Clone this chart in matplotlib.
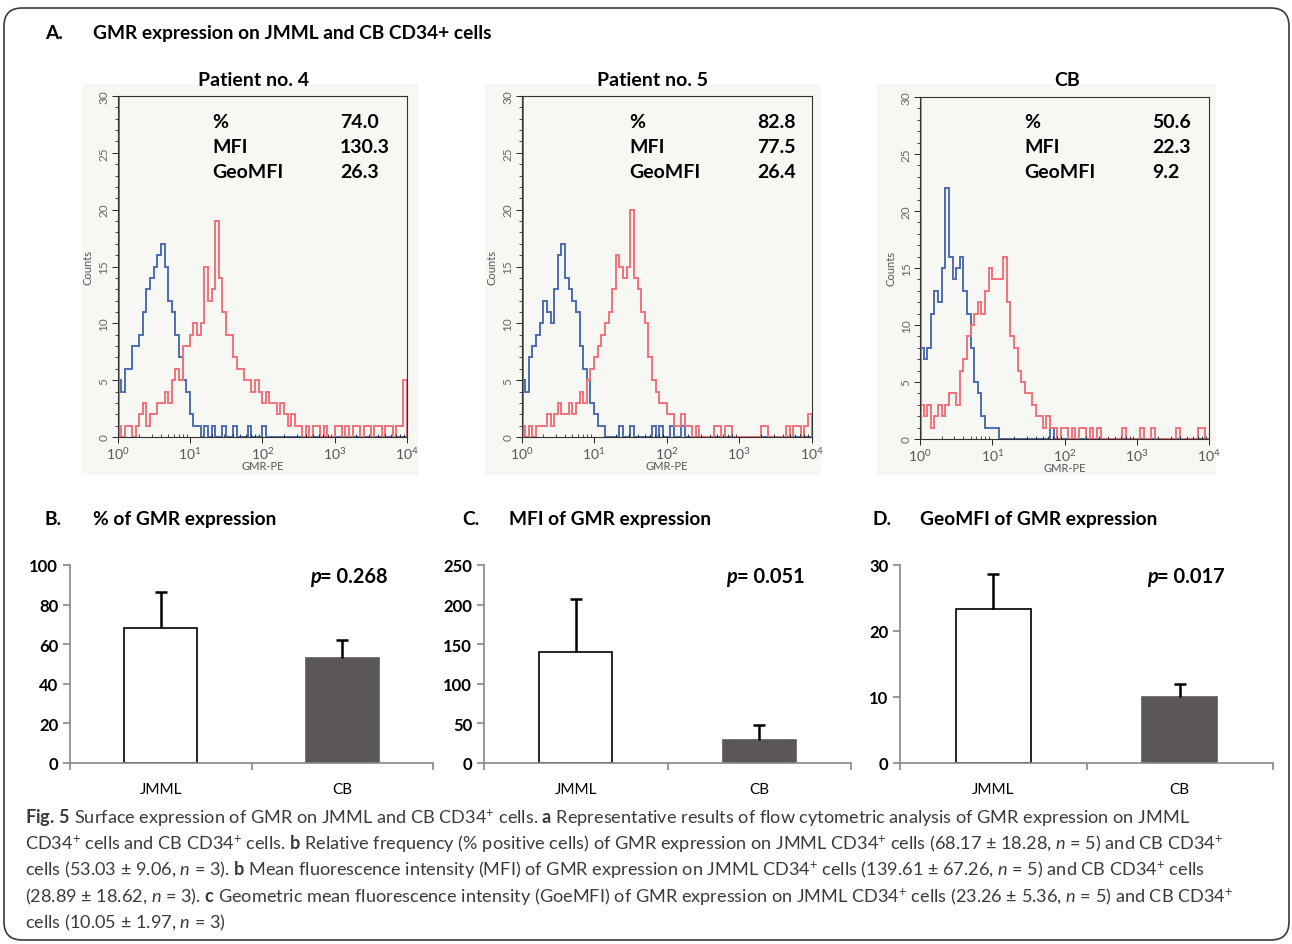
import numpy as np
import matplotlib
matplotlib.use('Agg')
import matplotlib.pyplot as plt
from matplotlib.patches import FancyBboxPatch, Rectangle
from matplotlib.ticker import MultipleLocator, LogLocator, NullFormatter

plt.rcParams['font.family'] = ['Lato', 'DejaVu Sans']
plt.rcParams['mathtext.fontset'] = 'custom'
plt.rcParams['mathtext.rm'] = 'Lato'
plt.rcParams['mathtext.it'] = 'Lato:italic'
plt.rcParams['mathtext.bf'] = 'Lato:bold'

W, H = 1292, 945

# ---- histogram data: counts per 0.05-decade bin, 10^0 .. 10^4 (80 bins) ----
p4_blue = [5, 4, 6, 6, 8, 8, 9, 11, 13, 14,
           15, 16, 17, 15, 12, 11, 9, 7, 5, 4,
           2, 1, 1, 0, 1, 0, 1, 0, 0, 1,
           0, 0, 1, 0, 0, 0, 1, 0, 0, 0,
           1, 0, 0, 0, 0, 0, 0, 0, 0, 0] + [0] * 30
p4_red = [1, 0, 1, 1, 0, 1, 2, 3, 1, 2,
          2, 3, 3, 4, 3, 5, 6, 5, 8, 8,
          9, 10, 9, 10, 15, 12, 13, 19, 14, 11,
          9, 9, 7, 6, 6, 5, 5, 4, 5, 4,
          3, 4, 3, 3, 2, 3, 2, 1, 2, 1,
          1, 0, 1, 0, 1, 1, 0, 1, 0, 0,
          1, 1, 0, 1, 0, 1, 1, 0, 1, 1,
          0, 1, 1, 0, 1, 1, 0, 1, 1, 5]
p5_blue = [5, 4, 7, 8, 9, 10, 12, 11, 10, 13,
           16, 17, 14, 13, 12, 11, 8, 6, 5, 3,
           2, 1, 1, 0, 0, 0, 0, 1, 0, 0,
           1, 0, 0, 0, 0, 0, 1, 0, 1, 0,
           0, 1, 0, 0, 1, 0, 0, 0, 0, 0] + [0] * 30
p5_red = [1, 0, 1, 0, 1, 1, 1, 2, 1, 2,
          3, 2, 2, 3, 2, 3, 4, 3, 5, 6,
          7, 8, 9, 10, 11, 13, 16, 15, 14, 15,
          20, 14, 13, 11, 10, 7, 5, 4, 3, 3,
          2, 2, 1, 1, 2, 1, 1, 0, 1, 0,
          0, 0, 0, 1, 1, 0, 1, 1, 0, 0,
          0, 0, 0, 0, 0, 0, 1, 1, 0, 0,
          0, 0, 0, 1, 0, 1, 1, 0, 1, 2]
cb_blue = [8, 7, 8, 11, 13, 12, 15, 22, 16, 14,
           15, 16, 13, 11, 8, 5, 4, 2, 1, 1,
           1, 1, 0, 0, 0, 0, 0, 0, 0, 0,
           0, 0, 0, 0, 0, 0, 1, 0, 0, 0] + [0] * 40
cb_red = [3, 2, 3, 1, 2, 3, 2, 3, 4, 4,
          3, 6, 7, 9, 10, 11, 12, 11, 13, 15,
          14, 14, 14, 16, 12, 9, 8, 6, 5, 4,
          4, 3, 2, 2, 1, 2, 1, 1, 0, 1,
          1, 0, 1, 0, 1, 1, 0, 1, 0, 1,
          0, 0, 0, 0, 0, 0, 1, 0, 0, 0,
          0, 1, 0, 0, 1, 0, 0, 0, 0, 0,
          0, 1, 0, 0, 0, 0, 0, 1, 1, 0]
# first channel (10^0) counts, off-scale ones are clipped at the top
first_blue = [31, 31, 19.5]
first_red = [7, 2, 31]

hist_titles = ['Patient no. 4', 'Patient no. 5', 'CB']
stat_names = ['%', 'MFI', 'GeoMFI']
stat_values = [['74.0', '130.3', '26.3'],
               ['82.8', '77.5', '26.4'],
               ['50.6', '22.3', '9.2']]

# ---- bar data ----
groups = ['JMML', 'CB']
pct_mean = [68.17, 53.03]
pct_sd = [18.28, 9.06]
mfi_mean = [139.61, 28.89]
mfi_sd = [67.26, 18.62]
geo_mean = [23.26, 10.05]
geo_sd = [5.36, 1.97]
p_values = ['0.268', '0.051', '0.017']

BLUE = '#4d6db3'
RED = '#f2717a'
DARK = '#5b5758'
TITLE_FS = 13.8

fig = plt.figure(figsize=(W / 100, H / 100), dpi=100)


def px_axes(l, t, r, b):
    return fig.add_axes([l / W, 1 - b / H, (r - l) / W, (b - t) / H])


def ftext(x, y, s, **kw):
    return fig.text(x / W, 1 - y / H, s, **kw)


# outer rounded frame
frame = FancyBboxPatch((4 / W, 1 - 941 / H), 1285 / W, 932 / H,
                       boxstyle='round,pad=0,rounding_size=0.014',
                       mutation_aspect=W / H, transform=fig.transFigure,
                       fill=False, ec='#3a3a3a', lw=1.2)
fig.patches.append(frame)

# ---- panel A ----
ftext(45, 39, 'A.', fontsize=TITLE_FS, fontweight='bold', va='baseline')
ftext(93, 39, 'GMR expression on JMML and CB CD34+ cells', fontsize=TITLE_FS,
      fontweight='bold', va='baseline')

edges = 10 ** np.linspace(0, 4, 81)
hist_boxes = [(117.5, 97, 407, 438), (521.5, 97, 811.5, 438), (920, 98, 1209, 440)]
scan_boxes = [(82, 85, 418, 476), (485, 85, 821, 476), (877, 85, 1216, 476)]
blues = [p4_blue, p5_blue, cb_blue]
reds = [p4_red, p5_red, cb_red]
title_x = [254, 652, 1067]
label_x = [0.326, 0.371, 0.36]
value_x = [0.768, 0.812, 0.803]

for k in range(3):
    l, t, r, b = scan_boxes[k]
    fig.patches.append(Rectangle((l / W, 1 - b / H), (r - l) / W, (b - t) / H,
                                 transform=fig.transFigure, fc='#f7f7f4',
                                 ec='none', zorder=-5))
    ax = px_axes(*hist_boxes[k])
    ax.set_facecolor('none')
    ax.stairs(blues[k], edges, color=BLUE, lw=1.4)
    ax.stairs(reds[k], edges, color=RED, lw=1.4)
    ax.vlines(1, 0, first_blue[k], color=BLUE, lw=2)
    ax.vlines(1, 0, first_red[k], color=RED, lw=2)
    ax.set_xscale('log')
    ax.set_xlim(1, 1e4)
    ax.set_ylim(0, 30)
    ax.yaxis.set_major_locator(MultipleLocator(5))
    ax.yaxis.set_minor_locator(MultipleLocator(1))
    ax.xaxis.set_major_locator(LogLocator(base=10))
    ax.xaxis.set_minor_locator(LogLocator(base=10, subs=np.arange(2, 10)))
    ax.xaxis.set_minor_formatter(NullFormatter())
    ax.tick_params(axis='y', which='major', labelsize=8.5, labelcolor='#666666',
                   length=4, width=0.6, pad=2, labelrotation=90)
    ax.tick_params(axis='y', which='minor', length=2, width=0.5)
    ax.tick_params(axis='x', which='major', labelsize=10, labelcolor='#555555',
                   length=4, width=0.6, pad=2)
    ax.tick_params(axis='x', which='minor', length=2, width=0.5, direction='in')
    for lab in ax.get_yticklabels():
        lab.set_va('center')
    ax.set_ylabel('Counts', fontsize=8, color='#555555', labelpad=3)
    ax.set_xlabel('GMR-PE', fontsize=8, color='#555555', labelpad=-1)
    for sp in ax.spines.values():
        sp.set_linewidth(0.8)
        sp.set_color('#333333')
    ftext(title_x[k], 86, hist_titles[k], fontsize=14, fontweight='bold',
          ha='center', va='baseline')
    for j, yy in enumerate([121, 146, 171]):
        ty = (hist_boxes[k][3] - yy - 7) / (hist_boxes[k][3] - hist_boxes[k][1])
        ax.text(label_x[k], ty, stat_names[j], transform=ax.transAxes,
                fontsize=14, fontweight='bold', va='baseline')
        ax.text(value_x[k], ty, stat_values[k][j], transform=ax.transAxes,
                fontsize=14, fontweight='bold', va='baseline')

# ---- panels B, C, D ----
bar_boxes = [(70, 566, 433, 764), (484, 566, 851, 764), (900, 566, 1273, 764)]
bar_letters = ['B.', 'C.', 'D.']
letter_x = [45, 462, 873]
bar_titles = ['% of GMR expression', 'MFI of GMR expression',
              'GeoMFI of GMR expression']
bar_title_x = [93, 509, 920]
means = [pct_mean, mfi_mean, geo_mean]
sds = [pct_sd, mfi_sd, geo_sd]
ymax = [100, 250, 30]
ystep = [20, 50, 10]

for k in range(3):
    ftext(letter_x[k], 525, bar_letters[k], fontsize=TITLE_FS, fontweight='bold',
          va='baseline')
    ftext(bar_title_x[k], 525, bar_titles[k], fontsize=TITLE_FS, fontweight='bold',
          va='baseline')
    ax = px_axes(*bar_boxes[k])
    x = np.arange(len(groups))
    ax.bar(x, means[k], width=0.4, color=['white', DARK],
           edgecolor=['black', DARK], linewidth=1.2, zorder=2)
    top = np.array(means[k]) + np.array(sds[k])
    ax.vlines(x, means[k], top, color='black', lw=1.8, zorder=3)
    ax.plot(x, top, ls='none', marker='_', ms=8, mew=1.8, color='black',
            zorder=3)
    ax.set_xlim(-0.5, 1.5)
    ax.set_ylim(0, ymax[k])
    ax.yaxis.set_major_locator(MultipleLocator(ystep[k]))
    ax.set_xticks(x)
    ax.set_xticklabels(groups, fontsize=11)
    ax.set_xticks([-0.5, 0.5, 1.5], minor=True)
    ax.tick_params(axis='x', which='major', length=0, pad=14)
    ax.tick_params(axis='x', which='minor', length=5, width=1.2, color='#888888')
    ax.tick_params(axis='y', length=5, width=1.2, color='#888888', labelsize=12)
    for lab in ax.get_yticklabels():
        lab.set_fontweight('bold')
    for side in ['top', 'right']:
        ax.spines[side].set_visible(False)
    for side in ['left', 'bottom']:
        ax.spines[side].set_color('#888888')
        ax.spines[side].set_linewidth(1.2)
    ax.text(0.69, 0.945, 'p', transform=ax.transAxes, fontsize=14.4,
            fontweight='bold', style='italic', ha='right', va='center')
    ax.text(0.69, 0.945, '= ' + p_values[k], transform=ax.transAxes,
            fontsize=14.4, fontweight='bold', ha='left', va='center')

# ---- caption ----
plus = r'$^{+}$'
cap_lines = [
    r'$\mathbf{Fig.\,5}$ Surface expression of GMR on JMML and CB CD34' + plus
    + r' cells. $\mathbf{a}$ Representative results of flow cytometric analysis of GMR expression on JMML',
    'CD34' + plus + r' cells and CB CD34' + plus
    + r' cells. $\mathbf{b}$ Relative frequency (% positive cells) of GMR expression on JMML CD34' + plus
    + r' cells (68.17 ± 18.28, $n$ = 5) and CB CD34' + plus,
    r'cells (53.03 ± 9.06, $n$ = 3). $\mathbf{b}$ Mean fluorescence intensity (MFI) of GMR expression on JMML CD34'
    + plus + r' cells (139.61 ± 67.26, $n$ = 5) and CB CD34' + plus + ' cells',
    r'(28.89 ± 18.62, $n$ = 3). $\mathbf{c}$ Geometric mean fluorescence intensity (GoeMFI) of GMR expression on JMML CD34'
    + plus + r' cells (23.26 ± 5.36, $n$ = 5) and CB CD34' + plus,
    r'cells (10.05 ± 1.97, $n$ = 3)',
]
for i, line in enumerate(cap_lines):
    ftext(25, 818 + 26.3 * i, line, fontsize=13.1, color='#3a3a3a', va='center')

fig.savefig('out.png', dpi=100)
